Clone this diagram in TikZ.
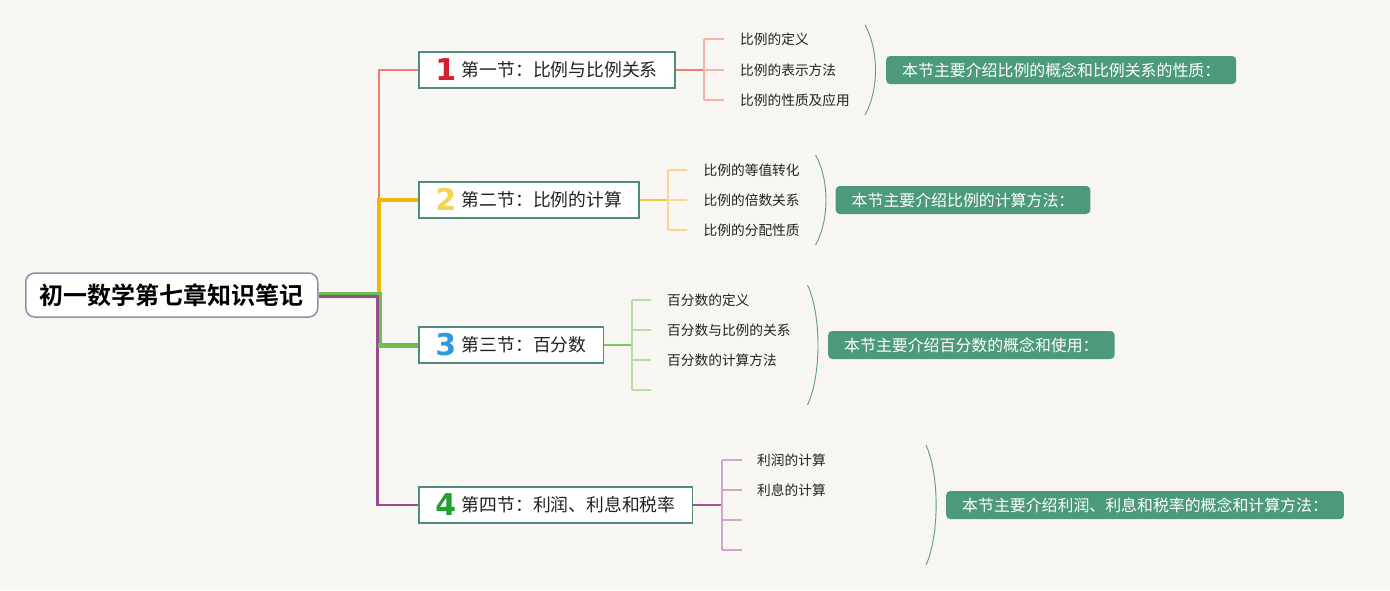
\documentclass[tikz,border=0pt]{standalone}
\usepackage{fontspec}
\setmainfont{Noto Sans CJK SC}[BoldFont={Noto Sans CJK SC Bold}]
\newfontfamily\numfont{DejaVu Sans}[BoldFont={DejaVu Sans Bold}]
\definecolor{bgc}{HTML}{F7F6F2}
\definecolor{rootborder}{HTML}{8C91AB}
\definecolor{boxborder}{HTML}{4E8C7C}
\definecolor{textc}{HTML}{222222}
\definecolor{summc}{HTML}{4C9A79}
\definecolor{bracec}{HTML}{5E9C84}
\definecolor{ta}{HTML}{F47C6C}
\definecolor{tb}{HTML}{F6B40E}
\definecolor{tc}{HTML}{6CBF50}
\definecolor{td}{HTML}{9A4B8C}
\definecolor{ca}{HTML}{E8806E}
\definecolor{la}{HTML}{F4B5A8}
\definecolor{cb}{HTML}{F2C443}
\definecolor{lb}{HTML}{F8D592}
\definecolor{cc}{HTML}{7DC866}
\definecolor{lc}{HTML}{B5DDA5}
\definecolor{cd}{HTML}{A4559A}
\definecolor{ld}{HTML}{D2A6CC}
\definecolor{na}{HTML}{D61F2C}
\definecolor{nb}{HTML}{F3D553}
\definecolor{nc}{HTML}{2D9BD9}
\definecolor{nd}{HTML}{22A12E}
\newcommand\secnum[2]{\makebox[20pt][c]{\raisebox{-4.1pt}[0pt][0pt]{\numfont\bfseries\fontsize{30}{30}\selectfont\color{#1}#2}}\hspace{6pt}}
\begin{document}
\begin{tikzpicture}[x=1pt,y=-1pt,
  rootbox/.style={draw=rootborder, line width=1.5pt, fill=white, rounded corners=9pt, minimum height=44pt, inner xsep=14pt, inner ysep=0pt, anchor=west, text=black, font=\fontsize{24}{28}\selectfont\bfseries},
  secbox/.style={draw=boxborder, line width=1.8pt, fill=white, minimum height=36pt, inner xsep=17pt, inner ysep=0pt, anchor=west, text=textc, font=\fontsize{17.8}{20}\selectfont},
  leaf/.style={anchor=west, inner sep=0pt, text=textc, font=\fontsize{13.7}{16}\selectfont},
  summ/.style={anchor=west, fill=summc, text=white, rounded corners=4pt, minimum height=28pt, inner xsep=16pt, inner ysep=0pt, font=\fontsize{15.9}{18}\selectfont},
  brace/.style={draw=bracec, line width=0.9pt},
  trunk/.style={line width=#1, line join=miter},
  lline/.style={line width=1.4pt}
]
\fill[bgc] (0,0) rectangle (1390,590);
\useasboundingbox (0,0) rectangle (1390,590);

% trunk junction coordinates
\coordinate (ja) at (379,295);
\coordinate (jc) at (380.5,295);
\coordinate (jd) at (377.5,295);
\coordinate (j3) at (378,345);

% root and sections
\node[rootbox] (root) at (25,295) {初一数学第七章知识笔记};
\node[secbox] (b1) at (418,70) {\secnum{na}{1}第一节：比例与比例关系};
\node[secbox] (b2) at (418,200) {\secnum{nb}{2}第二节：比例的计算};
\node[secbox] (b3) at (418,345) {\secnum{nc}{3}第三节：百分数};
\node[secbox] (b4) at (418,505) {\secnum{nd}{4}第四节：利润、利息和税率};

% trunk connectors
\draw[ta, trunk=2.6pt] (root.east) -- (ja) |- (b1.west);
\draw[tb, trunk=3.6pt] (root.east) -- (ja) |- (b2.west);
\draw[td, trunk=2.8pt] ([yshift=-1.6pt]root.east) -- ([yshift=-1.6pt]jd) |- (b4.west);
\draw[tc, trunk=2.8pt] ([yshift=1.6pt]root.east) -- ([yshift=1.6pt]jc) |- (b3.west);
\draw[tc, line width=5pt] (j3) -- (b3.west);

% branch 1 leaves
\coordinate (k1) at (704,70);
\coordinate (k1t) at (704,39);
\coordinate (k1b) at (704,100);
\node[leaf] (l11) at (740,39) {比例的定义};
\node[leaf] (l12) at (740,70) {比例的表示方法};
\node[leaf] (l13) at (740,100) {比例的性质及应用};
\draw[ca, lline] (b1.east) -- (k1);
\draw[la, lline] (k1t) -- (k1b);
\foreach \n in {l11,l12,l13} \draw[la, lline] (k1 |- \n.west) -- ([xshift=-16.5pt]\n.west);

% branch 2 leaves
\coordinate (k2) at (668,200);
\coordinate (k2t) at (668,170);
\coordinate (k2b) at (668,230);
\node[leaf] (l21) at (703.5,170) {比例的等值转化};
\node[leaf] (l22) at (703.5,200) {比例的倍数关系};
\node[leaf] (l23) at (703.5,230) {比例的分配性质};
\draw[cb, lline] (b2.east) -- (k2);
\draw[lb, lline] (k2t) -- (k2b);
\foreach \n in {l21,l22,l23} \draw[lb, lline] (k2 |- \n.west) -- ([xshift=-16.5pt]\n.west);

% branch 3 leaves
\coordinate (k3) at (632,345);
\coordinate (k3t) at (632,300);
\coordinate (k3b) at (632,390);
\node[leaf] (l31) at (667,300) {百分数的定义};
\node[leaf] (l32) at (667,330) {百分数与比例的关系};
\node[leaf] (l33) at (667,360) {百分数的计算方法};
\coordinate (l34) at (651,390);
\draw[cc, lline] (b3.east) -- (k3);
\draw[lc, lline] (k3t) -- (k3b);
\foreach \n in {l31,l32,l33} \draw[lc, lline] (k3 |- \n.west) -- ([xshift=-16pt]\n.west);
\draw[lc, lline] (k3b) -- (l34);

% branch 4 leaves
\coordinate (k4) at (722,505);
\coordinate (k4t) at (722,460);
\coordinate (k4b) at (722,550);
\node[leaf] (l41) at (757,460) {利润的计算};
\node[leaf] (l42) at (757,490) {利息的计算};
\coordinate (l43) at (742,520);
\coordinate (l44) at (742,550);
\draw[cd, lline] (b4.east) -- (k4);
\draw[ld, lline] (k4t) -- (k4b);
\foreach \n in {l41,l42} \draw[ld, lline] (k4 |- \n.west) -- ([xshift=-15pt]\n.west);
\draw[ld, lline] (k4 |- l43) -- (l43);
\draw[ld, lline] (k4b) -- (l44);

% summary braces
\draw[brace] (865,25) .. controls (879,50) and (879,90) .. (865,115);
\draw[brace] (815.5,155) .. controls (829.5,180) and (829.5,220) .. (815.5,245);
\draw[brace] (807.5,285) .. controls (821.5,315) and (821.5,375) .. (807.5,405);
\draw[brace] (926,445) .. controls (939.5,475) and (939.5,535) .. (926,565);

% summaries
\node[summ] (s1) at (886,70) {本节主要介绍比例的概念和比例关系的性质：\hspace{9pt}};
\node[summ] (s2) at (835.5,200) {本节主要介绍比例的计算方法：\hspace{9pt}};
\node[summ] (s3) at (828,345) {本节主要介绍百分数的概念和使用：\hspace{9pt}};
\node[summ] (s4) at (946,505) {本节主要介绍利润、利息和税率的概念和计算方法：\hspace{9pt}};
\end{tikzpicture}
\end{document}
